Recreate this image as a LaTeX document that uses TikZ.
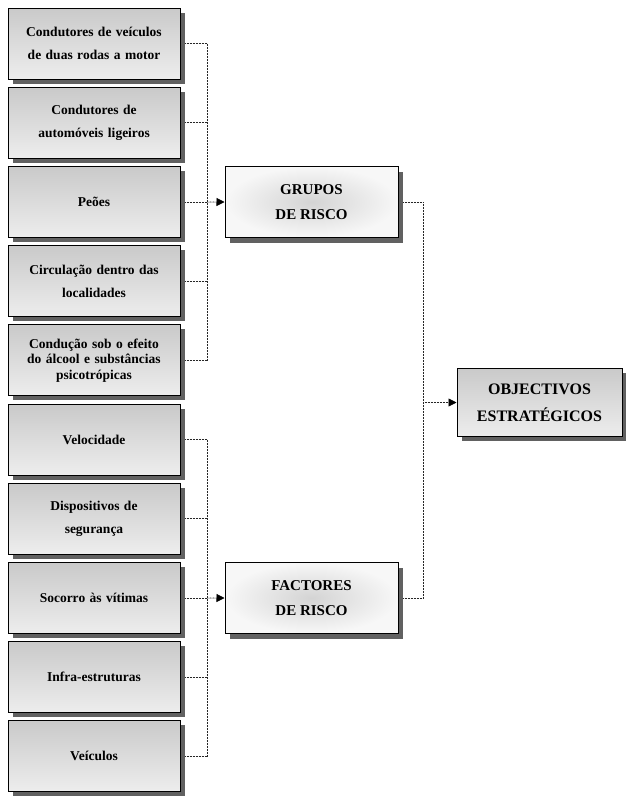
\documentclass[tikz,border=0pt]{standalone}
\usepackage{fontspec}
\setmainfont{Liberation Serif}
\usetikzlibrary{shadows,arrows.meta,calc,backgrounds}
\tikzset{
  sbox/.style={draw=black, line width=1pt, drop shadow={shadow xshift=4.5pt, shadow yshift=-4.5pt, fill=black!62, opacity=1},
    top color=black!21, bottom color=black!7,
    inner sep=2pt, align=center, font=\bfseries\fontsize{13.5}{23}\selectfont},
  lbox/.style={sbox, minimum width=172pt, minimum height=71pt, text width=166pt},
  mbox/.style={draw=black, line width=1pt, drop shadow={shadow xshift=5pt, shadow yshift=-5pt, fill=black!62, opacity=1},
    inner color=black!17, outer color=black!3,
    minimum width=173pt, minimum height=71pt, align=center, font=\bfseries\fontsize{15}{25}\selectfont},
  obox/.style={sbox, minimum width=165pt, minimum height=68pt, font=\bfseries\fontsize{16}{27}\selectfont},
  dot/.style={line width=0.7pt, dash pattern=on 0.8pt off 0.7pt, black!85},
  arr/.style={dot, -{Triangle[length=8pt,width=8pt,fill=black,color=black]}}
}
\begin{document}
\begin{tikzpicture}[x=1pt,y=-1pt]
\useasboundingbox (0,0) rectangle (626,796);
\node[lbox] (a1) at (94,43.5) {Condutores de veículos\\de duas rodas a motor};
\node[lbox] (a2) at (94,122.7) {Condutores de\\automóveis ligeiros};
\node[lbox] (a3) at (94,201.9) {Peões};
\node[lbox] (a4) at (94,281.1) {Circulação dentro das\\localidades};
\node[lbox, font=\bfseries\fontsize{13.5}{15.5}\selectfont] (a5) at (94,360.3) {Condução sob o efeito\\do álcool e substâncias\\psicotrópicas};
\node[lbox] (b1) at (94,439.5) {Velocidade};
\node[lbox] (b2) at (94,518.7) {Dispositivos de\\segurança};
\node[lbox] (b3) at (94,597.9) {Socorro às vítimas};
\node[lbox] (b4) at (94,677.1) {Infra-estruturas};
\node[lbox] (b5) at (94,756.3) {Veículos};
\node[mbox] (g) at (311.5,202) {GRUPOS\\DE RISCO};
\node[mbox] (f) at (311.5,598) {FACTORES\\DE RISCO};
\node[obox] (o) at (539.5,402.5) {OBJECTIVOS\\ESTRATÉGICOS};
\coordinate (bus) at (207,0);
\coordinate (bus2) at (423,0);
\begin{scope}[on background layer]
\foreach \n in {a1,a2,a3,a4,a5,b1,b2,b3,b4,b5}
  \draw[dot] (\n.east) -- (\n.east -| bus);
\draw[dot] (a1.east -| bus) -- (a5.east -| bus);
\draw[dot] (b1.east -| bus) -- (b5.east -| bus);
\draw[arr] (a3.east -| bus) -- (g.west);
\draw[arr] (b3.east -| bus) -- (f.west);
\draw[dot] (g.east) -- (g.east -| bus2);
\draw[dot] (f.east) -- (f.east -| bus2);
\draw[dot] (g.east -| bus2) -- (f.east -| bus2);
\draw[arr] (o.west -| bus2) -- (o.west);
\end{scope}
\end{tikzpicture}
\end{document}
